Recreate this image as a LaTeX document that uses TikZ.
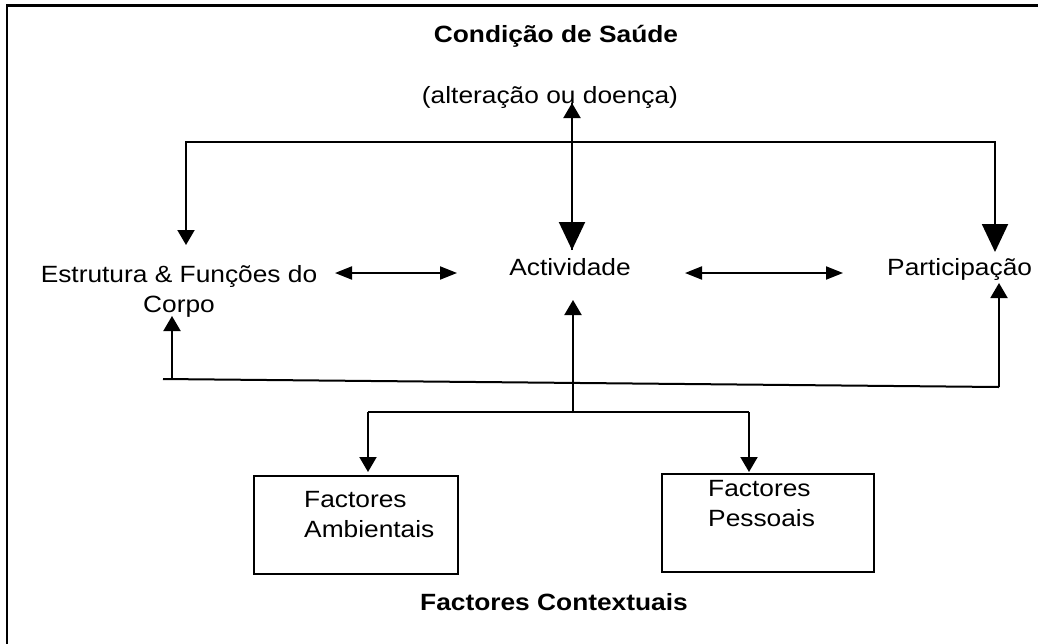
\documentclass[tikz,border=0pt]{standalone}
\usepackage{fontspec}
\setmainfont[FakeStretch=1.12]{Liberation Sans}
\usetikzlibrary{arrows.meta}
\begin{document}
\begin{tikzpicture}[x=1pt,y=-1pt,
  lbl/.style={inner sep=0pt, font=\fontsize{23.5}{30}\selectfont},
  ttl/.style={inner sep=0pt, font=\fontsize{23.5}{30}\selectfont\bfseries},
  wire/.style={line width=2pt, line join=miter},
  frame/.style={line width=2.5pt},
  boxnode/.style={draw, line width=2pt, inner sep=0pt, anchor=north west},
  sm/.style={wire, -{Triangle[length=15pt,width=17pt]}},
  big/.style={wire, -{Triangle[length=28pt,width=26pt]}},
  dbl/.style={wire, {Triangle[length=17pt,width=13pt]}-{Triangle[length=17pt,width=13pt]}}
]
\useasboundingbox (0,0) rectangle (1038,643);
\draw[frame] (7,680) -- (7,5.5) -- (1080,5.5);

% texts
\node[ttl, anchor=base] (cs) at (556,42) {Condição de Saúde};
\node[lbl, anchor=base] (alt) at (550,103) {(alteração ou doença)};
\node[lbl, anchor=base, align=center] (efc) at (179,312.5) {Estrutura \& Funções do\\Corpo};
\node[lbl, anchor=base] (act) at (570,275) {Actividade};
\node[lbl, anchor=base west] (par) at (887,275) {Participação};
\node[boxnode, minimum width=204pt, minimum height=98pt] (amb) at (253,475) {};
\node[lbl, anchor=base west, align=left] (ambt) at (304,537) {Factores\\Ambientais};
\node[boxnode, minimum width=212pt, minimum height=98pt] (pes) at (661,473) {};
\node[lbl, anchor=base west, align=left] (pest) at (708,526) {Factores\\Pessoais};
\node[ttl, anchor=base] (ctx) at (554,610) {Factores Contextuais};

% coordinates
\coordinate (tl) at (186,142);
\coordinate (tr) at (995,142);
\coordinate (efcTop) at (186,245);
\coordinate (parTop) at (995,252);
\coordinate (altBot) at (572,103);
\coordinate (actTop) at (572,250);
\coordinate (e1) at (335,273);
\coordinate (a1) at (457,273);
\coordinate (a2) at (685,273);
\coordinate (p2) at (843,273);
\coordinate (bl) at (163,379);
\coordinate (br) at (999,387);
\coordinate (blUp) at (172,379.5);
\coordinate (efcBot) at (172,316);
\coordinate (parBot) at (999,283);
\coordinate (ctrLow) at (573,413);
\coordinate (actBot) at (573,300);
\coordinate (ll) at (368,412);
\coordinate (lr) at (749,412);
\coordinate (ambTop) at (368,472);
\coordinate (pesTop) at (749,472);

% top bus
\draw[wire] (efcTop) ++(0,-20) -- (tl) -- (tr) -- ++(0,20);
\draw[sm] (tl) -- (efcTop);
\draw[big] (tr) -- (parTop);
\draw[sm] (actTop) -- (altBot);
\draw[big] (altBot) -- (actTop);

% horizontal double arrows
\draw[dbl] (e1) -- (a1);
\draw[dbl] (a2) -- (p2);

% bottom bus
\draw[wire] (bl) -- (br);
\draw[sm] (blUp) -- (efcBot);
\draw[sm] (br) -- (parBot);
\draw[sm] (ctrLow) -- (actBot);

% lower bus
\draw[wire] (ll) -- (lr);
\draw[sm] (ll) -- (ambTop);
\draw[sm] (lr) -- (pesTop);
\end{tikzpicture}
\end{document}
